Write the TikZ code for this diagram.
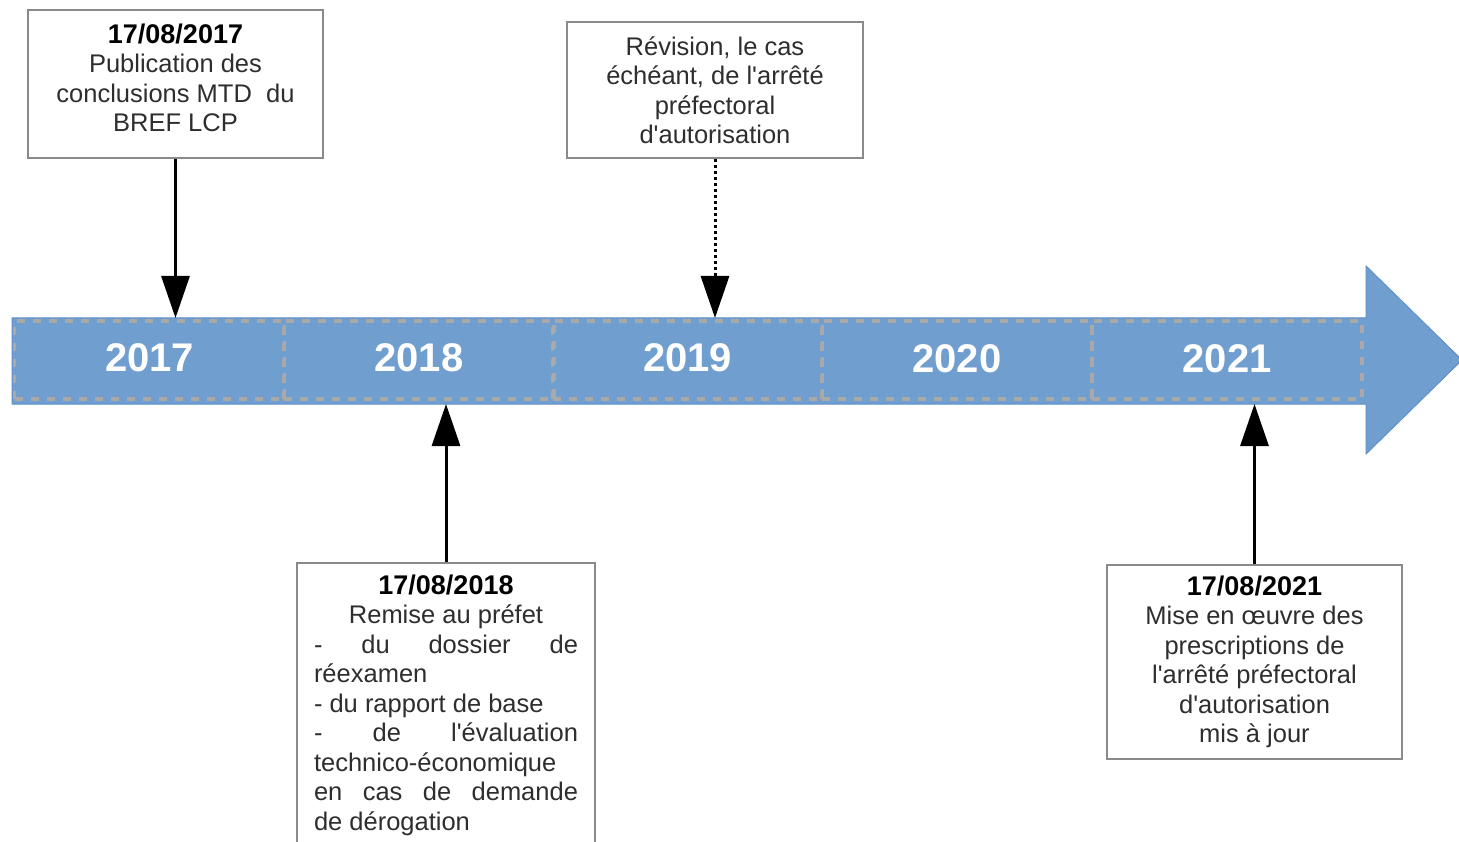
\documentclass[tikz,border=0pt]{standalone}
\usepackage{fontspec}
\setmainfont{Liberation Sans}[Ligatures=TeXOff]
\usetikzlibrary{arrows.meta}
\definecolor{bandblue}{HTML}{709ECF}
\definecolor{bandedge}{HTML}{5E8FC8}
\definecolor{dashgray}{HTML}{A9A9A9}
\definecolor{boxgray}{HTML}{8A8A8A}
\definecolor{txt}{HTML}{2E2E2E}
\newcommand{\datelbl}[1]{{\color{black}\fontsize{27}{29.5}\selectfont\bfseries #1}}
\begin{document}
\begin{tikzpicture}[x=1pt,y=-1pt,
  box/.style={draw=boxgray, line width=2.5pt, fill=white, inner sep=0pt, text=txt,
    font=\fontsize{25.5}{29.5}\selectfont},
  cell/.style={draw=dashgray, line width=3.5pt, dash pattern=on 8pt off 8pt,
    minimum width=270pt, minimum height=78pt, inner sep=0pt, text=white,
    font=\fontsize{40}{40}\selectfont\bfseries},
  link/.style={line width=3pt, draw=black, -{Triangle[length=42pt,width=28pt]}},
  dotlink/.style={link, dash pattern=on 3pt off 3pt},
]
\useasboundingbox (0,0) rectangle (1459,842);
\clip (0,0) rectangle (1459,842);

% timeline band
\filldraw[fill=bandblue, draw=bandedge, line width=1pt]
  (12,318) -- (1366,318) -- (1366,266) -- (1462,360) -- (1366,454) -- (1366,404) -- (12,404) -- cycle;
\coordinate (bandtop) at (0,318);
\coordinate (bandbot) at (0,404);

\node[cell] (y2017) at (149.5,360) {\raisebox{4pt}{2017}};
\node[cell] (y2018) at (419,360) {\raisebox{4pt}{2018}};
\node[cell] (y2019) at (687.5,360) {\raisebox{4pt}{2019}};
\node[cell] (y2020) at (957,360) {\raisebox{2pt}{2020}};
\node[cell] (y2021) at (1227,360) {\raisebox{2pt}{2021}};

% boxes
\node[box, minimum width=295pt, minimum height=148pt] (b17) at (175.5,84)
  {\raisebox{6pt}[\height][\depth]{\parbox{292pt}{\centering
   \datelbl{17/08/2017}\\Publication des\\conclusions MTD\ \ du\\BREF LCP}}};

\node[box, minimum width=296pt, minimum height=136pt] (b19) at (715,90)
  {\parbox{292pt}{\centering
   Révision, le cas\\échéant, de l'arrêté\\préfectoral\\d'autorisation}};

\node[box, minimum width=298pt, minimum height=284pt] (b18) at (446,705)
  {\parbox{264pt}{\centering
   \datelbl{17/08/2018}\\Remise au préfet\par\raggedright
   -\hfill du\hfill dossier\hfill de\\
   réexamen\\
   - du rapport de base\\
   -\hfill de\hfill l'évaluation\\
   technico-économique\\
   en\hfill cas\hfill de\hfill demande\\
   de dérogation}};

\node[box, minimum width=295pt, minimum height=194pt] (b21) at (1254.5,662)
  {\parbox{292pt}{\centering
   \datelbl{17/08/2021}\\Mise en œuvre des\\prescriptions de\\l'arrêté préfectoral\\d'autorisation\\mis à jour}};

% connectors
\draw[link] (b17.south) -- (b17.south |- bandtop);
\draw[dotlink] (b19.south) -- (b19.south |- bandtop);
\draw[link] (b18.north) -- (b18.north |- bandbot);
\draw[link] (b21.north) -- (b21.north |- bandbot);
\end{tikzpicture}
\end{document}
